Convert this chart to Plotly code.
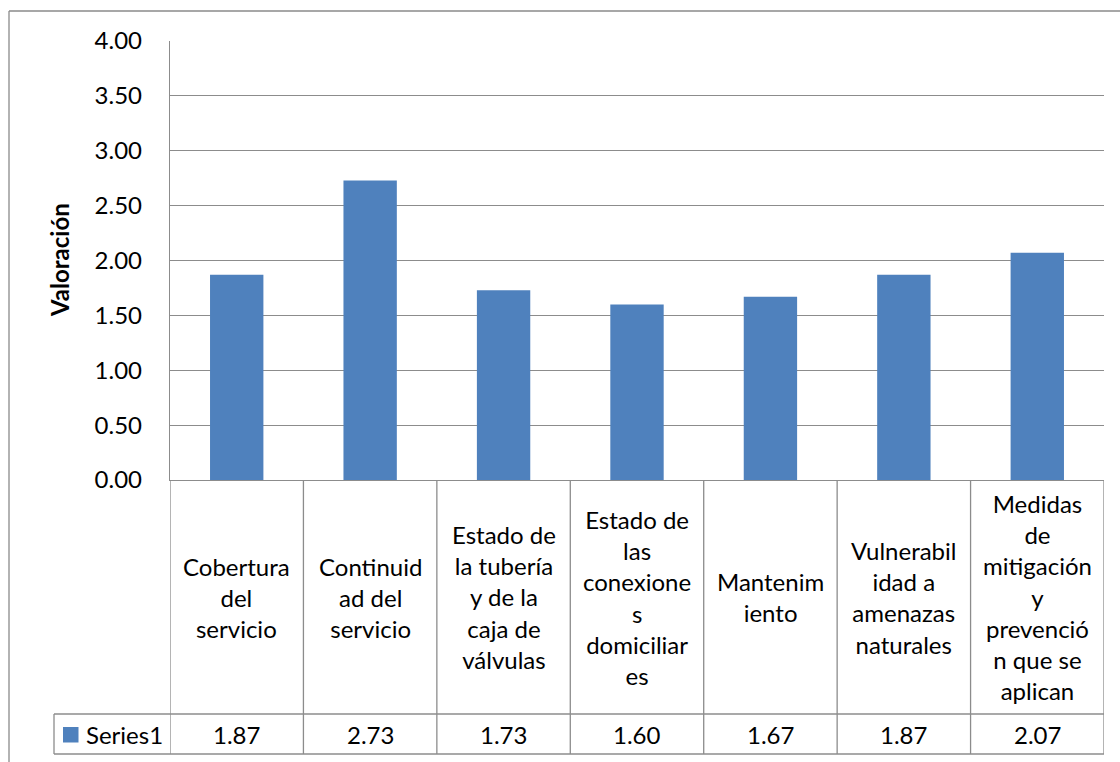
import plotly.graph_objects as go

categories = [
    "Cobertura del servicio",
    "Continuidad del servicio",
    "Estado de la tubería y de la caja de válvulas",
    "Estado de las conexiones domiciliares",
    "Mantenimiento",
    "Vulnerabilidad a amenazas naturales",
    "Medidas de mitigación y prevención que se aplican",
]
category_labels = [
    "Cobertura<br>del<br>servicio",
    "Continuid<br>ad del<br>servicio",
    "Estado de<br>la tubería<br>y de la<br>caja de<br>válvulas",
    "Estado de<br>las<br>conexione<br>s<br>domiciliar<br>es",
    "Mantenim<br>iento",
    "Vulnerabil<br>idad a<br>amenazas<br>naturales",
    "Medidas<br>de<br>mitigación<br>y<br>prevenció<br>n que se<br>aplican",
]
values = [1.87, 2.73, 1.73, 1.60, 1.67, 1.87, 2.07]
series_name = "Series1"
y_title = "Valoración"
y_ticks = [0, 0.5, 1.0, 1.5, 2.0, 2.5, 3.0, 3.5, 4.0]

BAR = "#4F81BD"
GRID = "#8C8C8C"
FONT = "Lato"

W, H = 1120, 762
L, R, T, B = 170, 16, 41, 282
PW = W - L - R
PH = H - T - B

def px_x(p):
    return (p - L) / PW

def px_y(p):
    return (H - B - p) / PH

fig = go.Figure()
fig.add_trace(go.Bar(
    x=categories, y=values, name=series_name,
    marker=dict(color=BAR, line=dict(width=0)),
    width=0.4, showlegend=False,
))

shapes = []
line = dict(color=GRID, width=1.3)
n = len(categories)
row_top = px_y(714)
row_bot = px_y(754)
# table vertical lines
for i in range(n + 1):
    shapes.append(dict(type="line", xref="x", yref="paper",
                       x0=i - 0.5, x1=i - 0.5, y0=0, y1=row_bot, line=line))
# table horizontal lines
shapes.append(dict(type="line", xref="paper", yref="paper",
                   x0=px_x(54), x1=1, y0=row_top, y1=row_top, line=line))
shapes.append(dict(type="line", xref="paper", yref="paper",
                   x0=px_x(54), x1=1, y0=row_bot, y1=row_bot, line=line))
shapes.append(dict(type="line", xref="paper", yref="paper",
                   x0=px_x(54), x1=px_x(54), y0=row_top, y1=row_bot, line=line))
# legend key square
shapes.append(dict(type="rect", xref="paper", yref="paper",
                   x0=px_x(63), x1=px_x(78.5), y0=px_y(727), y1=px_y(742.5),
                   fillcolor=BAR, line=dict(width=0)))
# outer chart border
shapes.append(dict(type="line", xref="paper", yref="paper",
                   x0=px_x(9), x1=px_x(1130), y0=px_y(11), y1=px_y(11),
                   line=dict(color="#8A8A8A", width=1.3)))
shapes.append(dict(type="line", xref="paper", yref="paper",
                   x0=px_x(9), x1=px_x(9), y0=px_y(11), y1=px_y(775),
                   line=dict(color="#8A8A8A", width=1.3)))

annotations = []
for i, (c, lab, v) in enumerate(zip(categories, category_labels, values)):
    annotations.append(dict(x=c, xref="x", y=px_y(597), yref="paper",
                            text=lab, showarrow=False, xanchor="center",
                            yanchor="middle", font=dict(size=24, color="black", family=FONT)))
    annotations.append(dict(x=c, xref="x", y=px_y(734), yref="paper",
                            text=f"{v:.2f}", showarrow=False, xanchor="center",
                            yanchor="middle", font=dict(size=24, color="black", family=FONT)))
annotations.append(dict(x=px_x(84), xref="paper", y=px_y(734), yref="paper",
                        text=series_name, showarrow=False, xanchor="left",
                        yanchor="middle", font=dict(size=24, color="black", family=FONT)))
annotations.append(dict(x=px_x(59), xref="paper", y=px_y(260), yref="paper",
                        text=f"<b>{y_title}</b>", showarrow=False, textangle=-90,
                        xanchor="center", yanchor="middle",
                        font=dict(size=24, color="black", family=FONT)))

fig.update_layout(
    width=W, height=H,
    margin=dict(l=L, r=R, t=T, b=B, pad=0),
    paper_bgcolor="white", plot_bgcolor="white",
    font=dict(family=FONT, size=24, color="black"),
    shapes=shapes, annotations=annotations,
    bargap=0.6,
    xaxis=dict(range=[-0.5, n - 0.5], showticklabels=False, showgrid=False,
               zeroline=False, showline=True, linecolor=GRID, linewidth=1.3,
               ticks=""),
    yaxis=dict(range=[0, 4], tickvals=y_ticks, tickformat=".2f",
               showgrid=True, gridcolor=GRID, gridwidth=1.3, zeroline=False,
               showline=True, linecolor=GRID, linewidth=1.3, ticks="",
               ticklabelstandoff=22, tickfont=dict(size=24, family=FONT, color="black")),
)

fig.write_html("out.html")
